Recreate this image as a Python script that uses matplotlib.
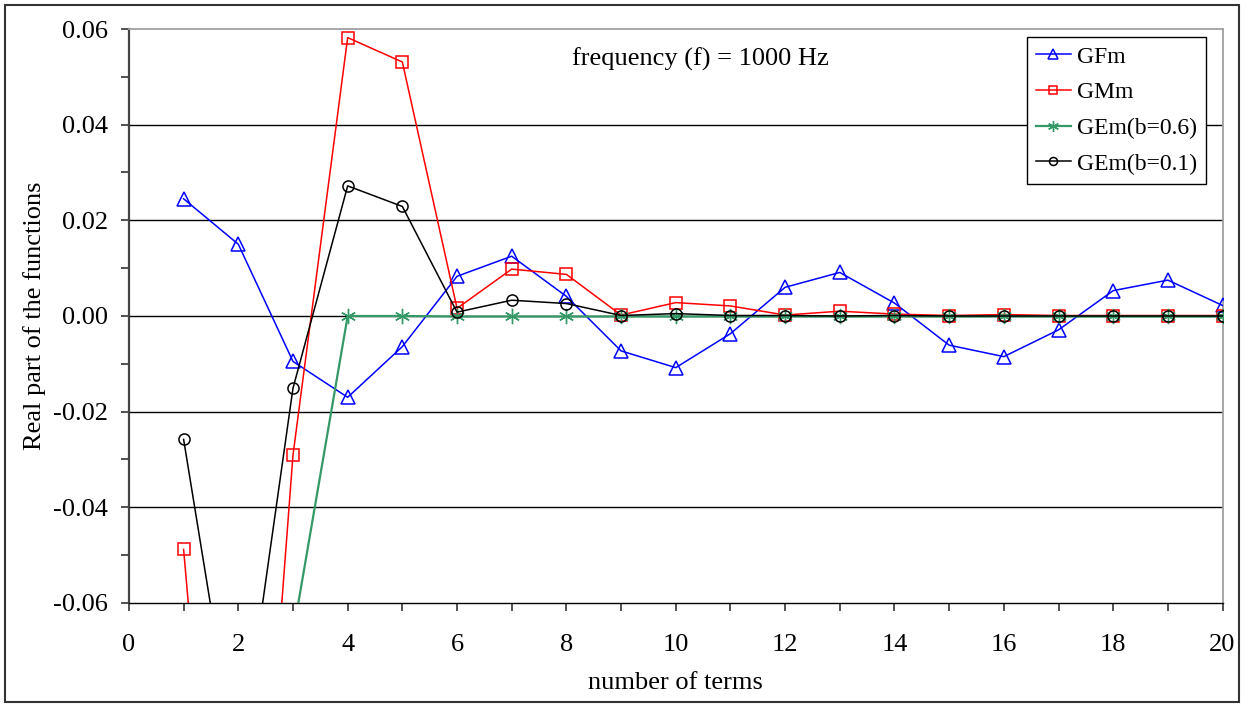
"""
Convergence of the real part of the Green's functions vs. number of terms
(f = 1000 Hz), drawn in an Excel-like style.
"""
import matplotlib
matplotlib.use("Agg")
import matplotlib.pyplot as plt
from matplotlib.patches import Rectangle
import numpy as np

#########################################################
# Data
#########################################################

n_terms = list(range(1, 21))

gfm = [0.0245, 0.0150, -0.0095, -0.0170, -0.0064, 0.0083, 0.0125, 0.0041,
       -0.0073, -0.0108, -0.0037, 0.0060, 0.0091, 0.0027, -0.0061, -0.0085,
       -0.0029, 0.0053, 0.0075, 0.0022]

gmm = [-0.0488, -0.1800, -0.0291, 0.0582, 0.0531, 0.0016, 0.0098, 0.0087,
       0.0002, 0.0028, 0.0021, 0.0002, 0.0010, 0.0004, 0.0001, 0.0003,
       0.0001, 0.0001, 0.0001, 0.0001]

gem_06 = [-0.3500, -0.2000, -0.0665, 0.0000, 0.0000, -0.0001, -0.0001, -0.0001,
          -0.0001, -0.0001, -0.0001, -0.0001, -0.0001, -0.0001, -0.0001, -0.0001,
          -0.0001, -0.0001, -0.0001, -0.0001]

gem_01 = [-0.0258, -0.0960, -0.0151, 0.0272, 0.0229, 0.0008, 0.0033, 0.0026,
          0.0001, 0.0005, 0.0001, 0.0001, 0.0000, 0.0001, 0.0000, 0.0000,
          0.0000, 0.0000, 0.0000, 0.0000]

series_labels = ["GFm", "GMm", "GEm(b=0.6)", "GEm(b=0.1)"]

x_ticks = list(range(0, 21, 2))
y_ticks = [-0.06, -0.04, -0.02, 0.00, 0.02, 0.04, 0.06]
y_tick_labels = ["-0.06", "-0.04", "-0.02", "0.00", "0.02", "0.04", "0.06"]

#########################################################
# Style
#########################################################

COLOR_GFM = "#0000FF"
COLOR_GMM = "#FF0000"
COLOR_GE6 = "#339966"
COLOR_GE1 = "#000000"

plt.rcParams.update({
    "font.family": ["Liberation Serif", "DejaVu Serif"],
    "axes.unicode_minus": False,
})

#########################################################
# Figure
#########################################################

fig = plt.figure(figsize=(12.47, 7.04), dpi=100)
fig.patch.set_facecolor("white")
ax = fig.add_axes([0.1034, 0.1435, 0.8770, 0.8153])

# outer chart frame
fig.patches.append(Rectangle((0.0043, 0.0035), 0.9892, 0.9890,
                             transform=fig.transFigure, fill=False,
                             edgecolor="#333333", linewidth=1.5))

# horizontal gridlines
for yv in y_ticks[1:-1]:
    ax.axhline(yv, color="black", linewidth=1.0, zorder=1)

ax.plot(n_terms, gfm, color=COLOR_GFM, linewidth=1.1, marker="^",
        markersize=10.5, markerfacecolor="none", markeredgecolor=COLOR_GFM,
        markeredgewidth=1.1, label=series_labels[0], zorder=3)
ax.plot(n_terms, gmm, color=COLOR_GMM, linewidth=1.1, marker="s",
        markersize=8, markerfacecolor="none", markeredgecolor=COLOR_GMM,
        markeredgewidth=1.1, label=series_labels[1], zorder=4)
ax.plot(n_terms, gem_06, color=COLOR_GE6, linewidth=1.6, marker=(6, 2, 0),
        markersize=11, markeredgecolor=COLOR_GE6, markeredgewidth=1.0,
        label=series_labels[2], zorder=5)
ax.plot(n_terms, gem_01, color=COLOR_GE1, linewidth=1.1, marker="o",
        markersize=8, markerfacecolor="none", markeredgecolor=COLOR_GE1,
        markeredgewidth=1.1, label=series_labels[3], zorder=6)

ax.text(10.45, 0.0537, "frequency (f) = 1000 Hz", fontsize=19,
        ha="center", va="center")

# axes limits and ticks
ax.set_xlim(0, 20)
ax.set_ylim(-0.06, 0.06)
ax.set_xticks(x_ticks)
ax.set_xticklabels([str(v) for v in x_ticks])
ax.set_xticks(range(1, 21, 2), minor=True)
ax.set_yticks(y_ticks)
ax.set_yticklabels(y_tick_labels)
ax.set_yticks(np.arange(-0.05, 0.06, 0.02), minor=True)

ax.tick_params(axis="both", which="both", direction="out", length=6,
               width=1.2, color="#333333", labelsize=19)
ax.tick_params(axis="y", pad=9)
ax.tick_params(axis="x", pad=16)

ax.set_xlabel("number of terms", fontsize=19, labelpad=12)
ax.set_ylabel("Real part of the functions", fontsize=19, labelpad=5)

# spines
ax.spines["left"].set_color("#444444")
ax.spines["left"].set_linewidth(1.6)
ax.spines["bottom"].set_color("black")
ax.spines["bottom"].set_linewidth(1.0)
for side in ["top", "right"]:
    ax.spines[side].set_color("#A0A0A0")
    ax.spines[side].set_linewidth(1.3)

leg = ax.legend(loc="upper right", bbox_to_anchor=(0.9845, 0.986),
                fontsize=17, frameon=True, fancybox=False, shadow=False,
                framealpha=1.0, edgecolor="black", borderpad=0.38,
                labelspacing=0.6, handlelength=1.45, handletextpad=0.25,
                borderaxespad=0.0, markerscale=0.72)
leg.get_frame().set_linewidth(1.0)
leg.set_zorder(10)

fig.savefig("out.png", dpi=100, facecolor=fig.get_facecolor())
